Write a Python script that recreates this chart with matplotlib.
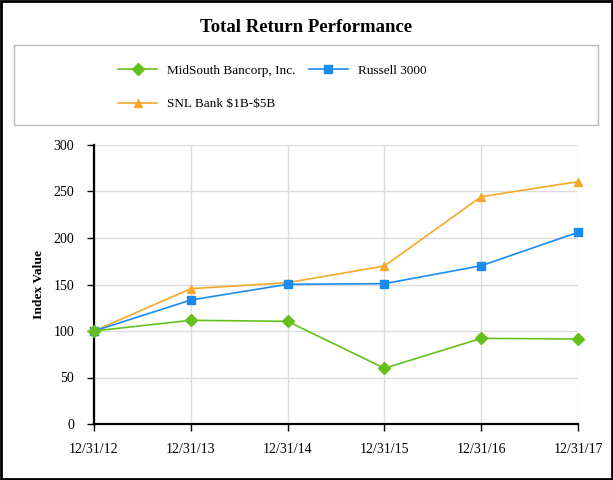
import matplotlib.pyplot as plt
import matplotlib.patches as patches

plt.rcParams['font.family'] = ['Liberation Serif', 'DejaVu Serif']

dates = ['12/31/12', '12/31/13', '12/31/14', '12/31/15', '12/31/16', '12/31/17']
midsouth = [100, 111.5, 110.4, 59.9, 92.1, 91.4]
russell = [100, 133.3, 150.2, 150.9, 170.2, 206.1]
snl = [100, 145.5, 152.0, 169.9, 244.4, 260.6]

fig = plt.figure(figsize=(6.13, 4.8), dpi=100)
ax = fig.add_axes([94/613, 56/480, 484/613, 279/480])

x = list(range(len(dates)))
l1, = ax.plot(x, midsouth, color='#66c01c', marker='D', markersize=6, lw=1.2,
              label='MidSouth Bancorp, Inc.', clip_on=False, zorder=5)
l2, = ax.plot(x, russell, color='#1a8cf0', marker='s', markersize=6, lw=1.2,
              label='Russell 3000', clip_on=False, zorder=4)
l3, = ax.plot(x, snl, color='#f5a82a', marker='^', markersize=6, lw=1.2,
              label=r'SNL Bank \$1B-\$5B', clip_on=False, zorder=3)

ax.set_xlim(0, 5)
ax.set_ylim(0, 300)
ax.set_yticks(range(0, 301, 50))
ax.set_xticks(x)
ax.set_xticklabels(dates)
ax.grid(True, color='#dcdcdc', lw=1)
ax.set_axisbelow(True)
ax.spines['top'].set_visible(False)
ax.spines['right'].set_visible(False)
ax.spines['left'].set_linewidth(1.6)
ax.spines['bottom'].set_linewidth(1.6)
ax.tick_params(axis='both', labelsize=10, length=5, width=1, colors='black')
ax.tick_params(axis='x', pad=8.5)
ax.tick_params(axis='y', pad=9.4)
ax.set_ylabel('Index Value', fontsize=9.7, fontweight='bold', labelpad=6)

fig.text(0.5, 1 - 28/480, 'Total Return Performance', ha='center', va='center',
         fontsize=13.5, fontweight='bold')

# legend box
fig.patches.append(patches.Rectangle((14/613, 1 - 125/480), 584/613, 80/480,
                                     transform=fig.transFigure, fill=False,
                                     edgecolor='#b8b8b8', lw=1))
fig.legend([l1, l3, l2], [l1.get_label(), l3.get_label(), l2.get_label()],
           ncol=2, frameon=False, loc='upper left',
           bbox_to_anchor=(106/613, 1 - 53/480), fontsize=9.5,
           handlelength=3.0, columnspacing=0.95, labelspacing=1.6, handletextpad=0.76)

# outer border
fig.patches.append(patches.Rectangle((0.002, 0.002), 0.996, 0.996,
                                     transform=fig.transFigure, fill=False,
                                     edgecolor='black', lw=2))

fig.savefig('out.png', dpi=100)
